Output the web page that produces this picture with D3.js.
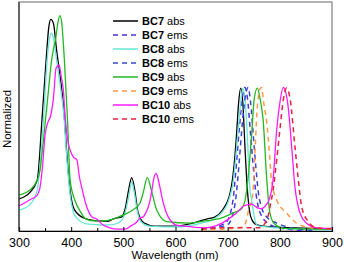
<!DOCTYPE html>
<html>
<head>
<meta charset="utf-8">
<script src="https://cdn.jsdelivr.net/npm/d3@7"></script>
<style>
  body { margin: 0; background: #fff; }
  svg { display: block; font-family: Arial, "Liberation Sans", sans-serif; }
</style>
</head>
<body>
<div id="chart"></div>
<script>
// wavelength (nm) / normalized intensity
var bc7Abs = [[300,0.150],[320,0.178],[335,0.238],[344,0.519],[352,0.799],[357,0.95],[361,0.989],[366,0.97],[372,0.846],[379,0.72],[386,0.565],[392,0.35],[398,0.19],[403,0.12],[411,0.084],[430,0.056],[455,0.047],[470,0.045],[480,0.056],[488,0.061],[496,0.065],[503,0.098],[510,0.19],[516,0.249],[522,0.19],[528,0.089],[540,0.037],[560,0.023],[600,0.023],[640,0.042],[660,0.056],[675,0.065],[690,0.098],[705,0.182],[712,0.3],[717,0.45],[721,0.6],[725,0.668],[729,0.6],[733,0.4],[737,0.22],[741,0.11],[746,0.055],[755,0.03],[780,0.02],[900,0.01]];
var bc7Ems = [[650,0.005],[690,0.03],[700,0.05],[705,0.08],[711,0.16],[717,0.32],[722,0.47],[727,0.6],[733,0.671],[738,0.62],[743,0.48],[748,0.33],[753,0.2],[758,0.12],[765,0.07],[775,0.04],[790,0.02],[810,0.01],[850,0.0]];
var bc8Abs = [[300,0.098],[320,0.121],[335,0.19],[340,0.3],[347,0.519],[354,0.8],[358,0.89],[362,0.924],[366,0.9],[372,0.8],[379,0.68],[386,0.54],[392,0.33],[398,0.17],[404,0.09],[411,0.06],[430,0.033],[460,0.028],[480,0.03],[495,0.045],[505,0.1],[511,0.17],[516,0.229],[521,0.18],[527,0.09],[535,0.04],[550,0.023],[600,0.019],[650,0.037],[670,0.051],[690,0.089],[700,0.13],[705,0.168],[710,0.22],[715,0.33],[720,0.47],[725,0.6],[729,0.668],[733,0.62],[737,0.48],[740,0.32],[743,0.19],[746,0.145],[750,0.08],[753,0.045],[757,0.025],[770,0.02],[790,0.015],[900,0.005]];
var bc8Ems = [[650,0.005],[700,0.03],[710,0.08],[716,0.16],[722,0.32],[728,0.5],[734,0.63],[739,0.671],[744,0.6],[749,0.45],[754,0.3],[759,0.178],[765,0.11],[775,0.065],[794,0.037],[813,0.02],[840,0.008],[870,0.0]];
var bc9Abs = [[300,0.168],[320,0.19],[335,0.238],[340,0.28],[345,0.38],[350,0.5],[355,0.62],[362,0.787],[366,0.85],[370,0.893],[375,0.98],[378.6,1.006],[382,0.97],[387,0.799],[393,0.519],[398,0.238],[407,0.145],[417,0.093],[428,0.057],[445,0.047],[460,0.047],[480,0.056],[500,0.075],[518,0.098],[532,0.131],[538,0.178],[546,0.249],[555,0.178],[564,0.098],[583,0.044],[628,0.037],[657,0.047],[689,0.061],[711,0.085],[725,0.1],[733,0.14],[740,0.27],[746,0.45],[751,0.62],[757,0.668],[762,0.62],[768,0.519],[775,0.238],[781,0.084],[790,0.033],[810,0.012],[900,0.008]];
var bc9Ems = [[650,0.005],[700,0.01],[730,0.02],[736,0.05],[741,0.11],[745,0.13],[749,0.2],[753,0.4],[756,0.55],[759,0.63],[762,0.665],[765,0.671],[769,0.6],[775,0.505],[780,0.364],[784,0.238],[794,0.145],[813,0.084],[832,0.037],[860,0.015],[900,0.01]];
var bc10Abs = [[300,0.117],[320,0.145],[335,0.168],[340,0.2],[345,0.3],[350,0.45],[355,0.505],[361,0.542],[366,0.62],[371,0.76],[376.7,0.776],[381,0.72],[385,0.659],[388,0.551],[393,0.43],[398,0.379],[404,0.346],[411,0.332],[416,0.25],[420,0.206],[430,0.112],[440,0.065],[449,0.056],[460,0.03],[474,0.015],[490,0.009],[505,0.01],[515,0.025],[525,0.04],[532,0.061],[538,0.066],[544,0.09],[548,0.113],[554,0.178],[558,0.24],[562.6,0.269],[566,0.25],[570,0.206],[576.6,0.131],[586,0.066],[602,0.028],[628,0.02],[657,0.015],[689,0.037],[714.6,0.079],[730.7,0.117],[740,0.124],[746,0.126],[752,0.117],[759.5,0.106],[766,0.105],[772,0.117],[780,0.15],[787,0.238],[794,0.472],[800,0.598],[806.6,0.671],[811,0.65],[816,0.579],[822.7,0.393],[829,0.206],[838.6,0.084],[851,0.037],[870,0.015],[900,0.012]];
var bc10Ems = [[650,0.01],[700,0.015],[760,0.015],[775,0.05],[781,0.112],[787,0.19],[794,0.332],[800,0.47],[806.6,0.612],[813,0.668],[820,0.612],[829,0.393],[835.5,0.238],[842,0.112],[855,0.042],[870,0.015],[900,0.01]];

var seriesNames = ["BC7", "BC7", "BC8", "BC8", "BC9", "BC9", "BC10", "BC10"];
var seriesKinds = ["abs", "ems", "abs", "ems", "abs", "ems", "abs", "ems"];
var seriesData = [bc7Abs, bc7Ems, bc8Abs, bc8Ems, bc9Abs, bc9Ems, bc10Abs, bc10Ems];
var seriesColors = ["#000000", "#4a33d8", "#66e8d6", "#3548cc", "#22b822", "#ff9a4a", "#ff1aff", "#e8203c"];

var xTicks = [300, 400, 500, 600, 700, 800, 900];
var xMinorTicks = [350, 450, 550, 650, 750, 850];

var W = 344, H = 262;
var mLeft = 19, mRight = 332, mTop = 2, mBottom = 231;

var svg = d3.select("#chart").append("svg")
	.attr("width", W)
	.attr("height", H);

var x = d3.scaleLinear().domain([300, 900]).range([mLeft, mRight]);
var y = d3.scaleLinear().domain([0, 1.07]).range([mBottom, mTop]);

svg.append("clipPath").attr("id", "clip")
	.append("rect")
	.attr("x", mLeft).attr("y", mTop)
	.attr("width", mRight - mLeft).attr("height", mBottom - mTop);

// frame
svg.append("rect")
	.attr("x", mLeft).attr("y", mTop)
	.attr("width", mRight - mLeft).attr("height", mBottom - mTop)
	.attr("fill", "none")
	.attr("stroke", "#808080")
	.attr("stroke-width", 1.2);

var line = d3.line()
	.x(function(d) { return x(d[0]); })
	.y(function(d) { return y(d[1]); })
	.curve(d3.curveMonotoneX);

var plot = svg.append("g").attr("clip-path", "url(#clip)");
for (var i = 0; i < seriesData.length; i++)
{
	plot.append("path")
		.attr("d", line(seriesData[i]))
		.attr("fill", "none")
		.attr("stroke", seriesColors[i])
		.attr("stroke-width", seriesKinds[i] == "ems" ? 1.5 : 1.3)
		.attr("stroke-dasharray", seriesKinds[i] == "ems" ? "5,4" : null);
}

// axes (ticks inward)
var xAxis = svg.append("g").attr("transform", "translate(0," + mBottom + ")");
xAxis.call(d3.axisBottom(x).tickValues(xTicks).tickSize(-4).tickPadding(7).tickFormat(d3.format("d")));
xAxis.select(".domain").attr("stroke", "#000").attr("stroke-width", 1.2);
xAxis.selectAll(".tick text").attr("font-size", 12.5).attr("font-family", "Arial, 'Liberation Sans', sans-serif").attr("fill", "#000");
xAxis.selectAll(".tick line").attr("stroke", "#000");
svg.append("g").attr("transform", "translate(0," + mBottom + ")")
	.call(d3.axisBottom(x).tickValues(xMinorTicks).tickSize(-3).tickFormat(""))
	.call(function(g) { g.select(".domain").remove(); });

svg.append("line")
	.attr("x1", mLeft).attr("x2", mLeft)
	.attr("y1", mTop).attr("y2", mBottom)
	.attr("stroke", "#333").attr("stroke-width", 1.2);

svg.append("text")
	.attr("x", 175)
	.attr("y", 259)
	.attr("text-anchor", "middle")
	.attr("font-size", 11.5)
	.text("Wavelength (nm)");

svg.append("text")
	.attr("transform", "translate(10.5,119) rotate(-90)")
	.attr("text-anchor", "middle")
	.attr("font-size", 11.5)
	.text("Normalized");

// legend
var legend = svg.append("g");
for (var j = 0; j < seriesData.length; j++)
{
	var ly = 21 + j * 14;
	legend.append("line")
		.attr("x1", 113).attr("x2", 138)
		.attr("y1", ly).attr("y2", ly)
		.attr("stroke", seriesColors[j])
		.attr("stroke-width", 1.5)
		.attr("stroke-dasharray", seriesKinds[j] == "ems" ? "5,4" : null);
	var t = legend.append("text")
		.attr("x", 142).attr("y", ly + 4)
		.attr("font-size", 11);
	t.append("tspan").attr("font-weight", "bold").text(seriesNames[j]);
	t.append("tspan").text(" " + seriesKinds[j]);
}
</script>
</body>
</html>
